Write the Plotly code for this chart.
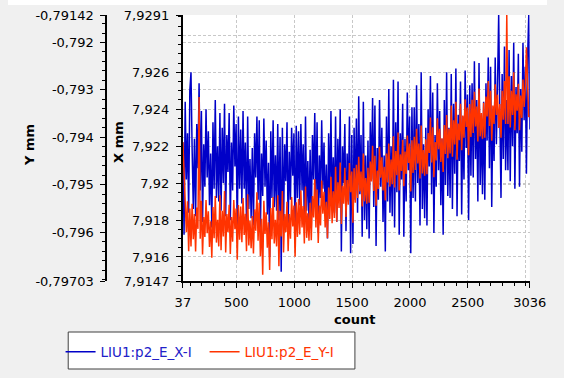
import numpy as np
import plotly.graph_objects as go

# ---- data ----
count = list(range(37, 3036, 10)) + [3036]

x_mm = [
    7.9222, 7.9172, 7.9244, 7.9202, 7.9227, 7.9184, 7.9250, 7.9260, 7.9218, 7.9186,
    7.9224, 7.9182, 7.9232, 7.9208, 7.9254, 7.9196, 7.9239, 7.9179, 7.9221, 7.9198,
    7.9240, 7.9203, 7.9228, 7.9188, 7.9216, 7.9176, 7.9233, 7.9197, 7.9245, 7.9192,
    7.9220, 7.9190, 7.9238, 7.9185, 7.9230, 7.9200, 7.9243, 7.9182, 7.9226, 7.9206,
    7.9238, 7.9180, 7.9222, 7.9196, 7.9242, 7.9209, 7.9232, 7.9173, 7.9236, 7.9197,
    7.9229, 7.9189, 7.9239, 7.9197, 7.9222, 7.9179, 7.9236, 7.9186, 7.9213, 7.9181,
    7.9219, 7.9177, 7.9227, 7.9203, 7.9236, 7.9191, 7.9234, 7.9174, 7.9216, 7.9193,
    7.9235, 7.9198, 7.9223, 7.9183, 7.9211, 7.9160, 7.9228, 7.9192, 7.9234, 7.9187,
    7.9215, 7.9185, 7.9232, 7.9180, 7.9225, 7.9152, 7.9230, 7.9177, 7.9221, 7.9201,
    7.9233, 7.9175, 7.9217, 7.9191, 7.9230, 7.9204, 7.9227, 7.9168, 7.9231, 7.9192,
    7.9228, 7.9188, 7.9232, 7.9196, 7.9221, 7.9178, 7.9236, 7.9185, 7.9212, 7.9180,
    7.9218, 7.9176, 7.9226, 7.9202, 7.9238, 7.9190, 7.9233, 7.9173, 7.9215, 7.9192,
    7.9234, 7.9197, 7.9222, 7.9182, 7.9210, 7.9170, 7.9227, 7.9191, 7.9239, 7.9186,
    7.9214, 7.9184, 7.9236, 7.9179, 7.9224, 7.9194, 7.9240, 7.9163, 7.9220, 7.9200,
    7.9232, 7.9174, 7.9216, 7.9190, 7.9236, 7.9162, 7.9226, 7.9167, 7.9230, 7.9191,
    7.9235, 7.9184, 7.9247, 7.9194, 7.9226, 7.9171, 7.9244, 7.9180, 7.9215, 7.9175,
    7.9223, 7.9170, 7.9233, 7.9202, 7.9246, 7.9187, 7.9242, 7.9166, 7.9219, 7.9191,
    7.9245, 7.9198, 7.9230, 7.9179, 7.9215, 7.9163, 7.9236, 7.9190, 7.9251, 7.9184,
    7.9220, 7.9182, 7.9256, 7.9176, 7.9233, 7.9195, 7.9255, 7.9172, 7.9227, 7.9202,
    7.9243, 7.9171, 7.9224, 7.9190, 7.9249, 7.9207, 7.9236, 7.9162, 7.9241, 7.9192,
    7.9241, 7.9190, 7.9253, 7.9200, 7.9232, 7.9177, 7.9260, 7.9186, 7.9221, 7.9181,
    7.9230, 7.9177, 7.9240, 7.9209, 7.9258, 7.9194, 7.9249, 7.9173, 7.9226, 7.9198,
    7.9254, 7.9207, 7.9239, 7.9188, 7.9224, 7.9172, 7.9245, 7.9199, 7.9260, 7.9193,
    7.9230, 7.9192, 7.9259, 7.9186, 7.9243, 7.9205, 7.9262, 7.9182, 7.9237, 7.9212,
    7.9255, 7.9183, 7.9236, 7.9202, 7.9261, 7.9219, 7.9248, 7.9180, 7.9253, 7.9204,
    7.9254, 7.9203, 7.9266, 7.9213, 7.9245, 7.9190, 7.9265, 7.9199, 7.9234, 7.9194,
    7.9244, 7.9191, 7.9254, 7.9223, 7.9268, 7.9208, 7.9263, 7.9187, 7.9240, 7.9212,
    7.9268, 7.9221, 7.9253, 7.9291, 7.9238, 7.9192, 7.9259, 7.9213, 7.9274, 7.9207,
    7.9245, 7.9207, 7.9272, 7.9201, 7.9258, 7.9220, 7.9276, 7.9197, 7.9252, 7.9227,
    7.9270, 7.9198, 7.9251, 7.9217, 7.9276, 7.9234, 7.9263, 7.9205, 7.9268, 7.9291,
    7.9229,
]

y_mm = [
    -0.79410, -0.79470, -0.79530, -0.79600, -0.79535, -0.79640, -0.79550, -0.79630, -0.79540, -0.79615,
    -0.79562, -0.79641, -0.79548, -0.79593, -0.79315, -0.79614, -0.79534, -0.79647, -0.79568, -0.79610,
    -0.79532, -0.79602, -0.79556, -0.79631, -0.79577, -0.79654, -0.79547, -0.79613, -0.79524, -0.79622,
    -0.79574, -0.79630, -0.79522, -0.79638, -0.79555, -0.79609, -0.79513, -0.79643, -0.79562, -0.79600,
    -0.79542, -0.79646, -0.79568, -0.79620, -0.79532, -0.79594, -0.79550, -0.79658, -0.79543, -0.79616,
    -0.79546, -0.79621, -0.79528, -0.79606, -0.79561, -0.79640, -0.79520, -0.79628, -0.79576, -0.79634,
    -0.79566, -0.79645, -0.79552, -0.79597, -0.79516, -0.79618, -0.79538, -0.79651, -0.79572, -0.79690,
    -0.79534, -0.79604, -0.79558, -0.79633, -0.79579, -0.79680, -0.79549, -0.79615, -0.79526, -0.79624,
    -0.79574, -0.79630, -0.79522, -0.79672, -0.79555, -0.79609, -0.79513, -0.79643, -0.79562, -0.79600,
    -0.79536, -0.79640, -0.79562, -0.79614, -0.79526, -0.79588, -0.79544, -0.79652, -0.79537, -0.79610,
    -0.79530, -0.79605, -0.79512, -0.79590, -0.79545, -0.79624, -0.79504, -0.79612, -0.79560, -0.79618,
    -0.79538, -0.79617, -0.79524, -0.79569, -0.79488, -0.79590, -0.79510, -0.79623, -0.79544, -0.79586,
    -0.79491, -0.79561, -0.79515, -0.79590, -0.79536, -0.79613, -0.79506, -0.79572, -0.79483, -0.79581,
    -0.79514, -0.79570, -0.79462, -0.79578, -0.79495, -0.79549, -0.79453, -0.79583, -0.79502, -0.79540,
    -0.79464, -0.79568, -0.79490, -0.79542, -0.79454, -0.79516, -0.79472, -0.79580, -0.79465, -0.79538,
    -0.79458, -0.79528, -0.79441, -0.79514, -0.79472, -0.79546, -0.79434, -0.79535, -0.79486, -0.79540,
    -0.79464, -0.79538, -0.79451, -0.79493, -0.79418, -0.79513, -0.79439, -0.79544, -0.79470, -0.79509,
    -0.79420, -0.79485, -0.79442, -0.79512, -0.79462, -0.79533, -0.79434, -0.79495, -0.79413, -0.79504,
    -0.79447, -0.79499, -0.79398, -0.79506, -0.79429, -0.79480, -0.79390, -0.79512, -0.79436, -0.79471,
    -0.79405, -0.79503, -0.79430, -0.79477, -0.79396, -0.79454, -0.79413, -0.79514, -0.79406, -0.79475,
    -0.79399, -0.79469, -0.79382, -0.79455, -0.79413, -0.79487, -0.79375, -0.79476, -0.79427, -0.79481,
    -0.79404, -0.79478, -0.79391, -0.79433, -0.79358, -0.79453, -0.79379, -0.79484, -0.79410, -0.79449,
    -0.79360, -0.79425, -0.79382, -0.79452, -0.79402, -0.79473, -0.79374, -0.79435, -0.79353, -0.79444,
    -0.79382, -0.79434, -0.79333, -0.79441, -0.79364, -0.79415, -0.79325, -0.79447, -0.79371, -0.79406,
    -0.79329, -0.79427, -0.79354, -0.79401, -0.79320, -0.79378, -0.79337, -0.79438, -0.79330, -0.79399,
    -0.79321, -0.79391, -0.79304, -0.79377, -0.79335, -0.79409, -0.79297, -0.79398, -0.79349, -0.79403,
    -0.79327, -0.79401, -0.79314, -0.79356, -0.79281, -0.79376, -0.79302, -0.79407, -0.79333, -0.79372,
    -0.79288, -0.79353, -0.79310, -0.79380, -0.79330, -0.79401, -0.79302, -0.79363, -0.79281, -0.79372,
    -0.79142, -0.79372, -0.79271, -0.79379, -0.79302, -0.79353, -0.79263, -0.79385, -0.79309, -0.79344,
    -0.79287, -0.79385, -0.79312, -0.79359, -0.79278, -0.79336, -0.79295, -0.79210, -0.79288, -0.79357,
    -0.79355,
]

count_ticks = [37, 500, 1000, 1500, 2000, 2500, 3000, 3036]
count_labels = ["37", "500", "1000", "1500", "2000", "2500", "", "3036"]
x_ticks = [7.9291, 7.928, 7.926, 7.924, 7.922, 7.92, 7.918, 7.916, 7.9147]
x_labels = ["7,9291", "", "7,926", "7,924", "7,922", "7,92", "7,918", "7,916", "7,9147"]
y_ticks = [-0.79142, -0.792, -0.793, -0.794, -0.795, -0.796, -0.79703]
y_labels = ["-0,79142", "-0,792", "-0,793", "-0,794", "-0,795", "-0,796", "-0,79703"]

BLUE = "#0000c8"
RED = "#ff3300"
FONT = "DejaVu Sans"

W, H = 564, 378
ML, MR, MT, MB = 0, 0, 15, 97
PH = H - MT - MB


def px_x(px):
    return px / W


def px_y(py):
    return (H - MB - py) / PH


fig = go.Figure()
fig.add_trace(go.Scatter(
    x=count, y=x_mm, mode="lines", yaxis="y",
    line=dict(color=BLUE, width=1.5),
    name="<span style='color:#2020c8'>LIU1:p2_E_X-I</span>",
))
fig.add_trace(go.Scatter(
    x=count, y=y_mm, mode="lines", yaxis="y2",
    line=dict(color=RED, width=1.5),
    name="<span style='color:#ff3300'>LIU1:p2_E_Y-I</span>",
))

grid = dict(showgrid=True, gridcolor="#c8c8c8", gridwidth=1, griddash="3px,2px")
tickfont = dict(family=FONT, size=13, color="black")

fig.update_layout(
    width=W, height=H,
    margin=dict(l=ML, r=MR, t=MT, b=MB),
    paper_bgcolor="#f0f0f0",
    plot_bgcolor="white",
    font=dict(family=FONT, size=13, color="black"),
    showlegend=True,
    legend=dict(
        orientation="h", x=px_x(55), y=px_y(352), xanchor="left", yanchor="middle",
        bgcolor="rgba(0,0,0,0)", borderwidth=0,
        font=dict(family=FONT, size=13.5), itemwidth=30,
        entrywidth=99,
    ),
    xaxis=dict(
        domain=[px_x(183), px_x(546)], range=[37, 3036],
        tickmode="array", tickvals=count_ticks, ticktext=count_labels, tickfont=tickfont,
        ticks="outside", ticklen=5, tickwidth=1, tickcolor="black",
        showline=True, linecolor="black", linewidth=2,
        minor=dict(tickmode="array", tickvals=list(range(100, 3001, 100)),
                   ticks="outside", ticklen=3, tickcolor="black", showgrid=False),
        zeroline=False, ticklabelstandoff=3,
        **grid,
    ),
    yaxis=dict(
        range=[7.9147, 7.9291],
        tickmode="array", tickvals=x_ticks, ticktext=x_labels, tickfont=tickfont,
        ticks="outside", ticklen=5, tickwidth=1, tickcolor="black",
        showline=True, linecolor="black", linewidth=2,
        minor=dict(tickmode="array", tickvals=list(np.round(np.arange(7.915, 7.9291, 0.0005), 4)),
                   ticks="outside", ticklen=3, tickcolor="black", showgrid=False),
        zeroline=False, ticklabelstandoff=4,
        **grid,
    ),
    yaxis2=dict(
        range=[-0.79703, -0.79142], overlaying="y", anchor="free",
        position=px_x(103), side="left",
        tickmode="array", tickvals=y_ticks, ticktext=y_labels, tickfont=tickfont,
        ticks="outside", ticklen=5, tickwidth=1, tickcolor="black",
        showline=True, linecolor="black", linewidth=2,
        minor=dict(tickmode="array", tickvals=list(np.round(np.arange(-0.7970, -0.7915, 0.0002), 4)),
                   ticks="outside", ticklen=3, tickcolor="black", showgrid=False),
        zeroline=False, ticklabelstandoff=4,
        **grid,
    ),
    shapes=[
        dict(type="rect", xref="paper", yref="paper", x0=0, x1=1,
             y0=px_y(5), y1=px_y(0), fillcolor="white", line=dict(width=0), layer="above"),
        dict(type="rect", xref="paper", yref="paper", x0=px_x(63), x1=px_x(363),
             y0=px_y(332), y1=px_y(369), fillcolor="white",
             line=dict(color="#404040", width=1), layer="below"),
    ],
    annotations=[
        dict(text="<b>Y mm</b>", x=px_x(22), y=px_y(145), xref="paper", yref="paper",
             xanchor="center", yanchor="middle",
             showarrow=False, textangle=-90, font=dict(family=FONT, size=13)),
        dict(text="<b>X mm</b>", x=px_x(115), y=px_y(142), xref="paper", yref="paper",
             xanchor="center", yanchor="middle",
             showarrow=False, textangle=-90, font=dict(family=FONT, size=13)),
        dict(text="<b>count</b>", x=px_x(363), y=px_y(319), xref="paper", yref="paper",
             xanchor="center", yanchor="middle",
             showarrow=False, font=dict(family=FONT, size=13)),
    ],
)

fig.write_html("out.html", post_script="document.body.style.margin='0';",
               config={"displayModeBar": False})
